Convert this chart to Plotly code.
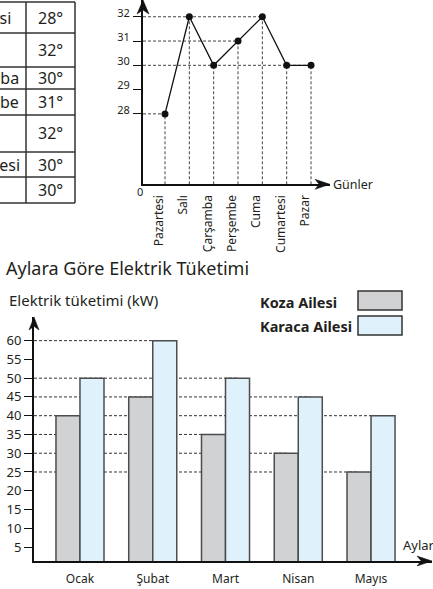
import plotly.graph_objects as go

W, H = 433, 589

# ---------------- data ----------------
days = ["Pazartesi", "Salı", "Çarşamba", "Perşembe", "Cuma", "Cumartesi", "Pazar"]
temps = [28, 32, 30, 31, 32, 30, 30]
temp_ticks = [28, 29, 30, 31, 32]
temp_tick_labels = ["28", "29", "30", "31", "32"]

table_temps = ["28°", "32°", "30°", "31°", "32°", "30°", "30°"]

months = ["Ocak", "Şubat", "Mart", "Nisan", "Mayıs"]
koza = [40, 45, 35, 30, 25]
karaca = [50, 60, 50, 45, 40]
kw_ticks = [5, 10, 15, 20, 25, 30, 35, 40, 45, 50, 55, 60]
kw_tick_labels = ["5", "10", "15", "20", "25", "30", "35", "40", "45", "50", "55", "60"]
kw_grid_levels = [60, 50, 45, 40, 35, 30, 25]

series_names = ["Koza Ailesi", "Karaca Ailesi"]
series_colors = ["#d1d2d4", "#dff1fa"]

# ---------------- helpers ----------------
FONT = "Noto Sans"
TXT = "#231f20"


def px(x):
    return x / W


def py(y):
    return 1 - y / H


def arrow_path(tx, ty, direction, L, Wd):
    if direction == "up":
        pts = [(tx, ty), (tx - Wd / 2, ty + L), (tx, ty + 0.72 * L), (tx + Wd / 2, ty + L)]
    else:
        pts = [(tx, ty), (tx - L, ty - Wd / 2), (tx - 0.72 * L, ty), (tx - L, ty + Wd / 2)]
    s = "M " + " L ".join(f"{px(a):.5f},{py(b):.5f}" for a, b in pts) + " Z"
    return s


shapes = []
annotations = []

# ---------------- table (top-left) ----------------
row_edges = [2, 33, 67, 89, 115, 152, 177, 203]
for y in row_edges:
    shapes.append(dict(type="line", xref="paper", yref="paper", x0=px(-2), x1=px(75),
                       y0=py(y), y1=py(y), line=dict(color="#333", width=1.5)))
for x in [26, 75]:
    shapes.append(dict(type="line", xref="paper", yref="paper", x0=px(x), x1=px(x),
                       y0=py(row_edges[0]), y1=py(row_edges[-1]), line=dict(color="#333", width=1.5)))
for i, (d, t) in enumerate(zip(days, table_temps)):
    yc = (row_edges[i] + row_edges[i + 1]) / 2
    annotations.append(dict(text=d, xref="paper", yref="paper", x=px(-59), y=py(yc),
                            xanchor="left", yanchor="middle", showarrow=False,
                            font=dict(family=FONT, size=16, color=TXT)))
    annotations.append(dict(text=t, xref="paper", yref="paper", x=px(50), y=py(yc),
                            xanchor="center", yanchor="middle", showarrow=False,
                            font=dict(family=FONT, size=16, color=TXT)))

# ---------------- line chart (top-right) ----------------
X1_MIN, X1_MAX = -0.904, 6.78
Y1_MIN, Y1_MAX = 25.1, 32.69

fig = go.Figure()
fig.add_trace(go.Scatter(x=days, y=temps, mode="lines+markers", xaxis="x", yaxis="y",
                         line=dict(color="#111", width=1.3),
                         marker=dict(color="#111", size=7), showlegend=False, cliponaxis=False))

for level in sorted(set(temps)):
    last = max(i for i, v in enumerate(temps) if v == level)
    shapes.append(dict(type="line", xref="x", yref="y", x0=X1_MIN, x1=last, y0=level, y1=level,
                       layer="below", line=dict(color="#444", width=1, dash="3px,2px")))
for i, v in enumerate(temps):
    shapes.append(dict(type="line", xref="x", yref="y", x0=i, x1=i, y0=Y1_MIN, y1=v,
                       layer="below", line=dict(color="#444", width=1, dash="3px,2px")))

shapes.append(dict(type="path", xref="paper", yref="paper", path=arrow_path(143, 0, "up", 14, 12),
                   fillcolor="#111", line=dict(color="#111", width=0.5)))
shapes.append(dict(type="path", xref="paper", yref="paper", path=arrow_path(330, 184.3, "right", 15, 10),
                   fillcolor="#111", line=dict(color="#111", width=0.5)))

annotations.append(dict(text="Günler", xref="paper", yref="paper", x=px(331), y=py(184.5),
                        xanchor="left", yanchor="middle", showarrow=False,
                        font=dict(family=FONT, size=12.5, color=TXT)))
annotations.append(dict(text="0", xref="paper", yref="paper", x=px(139.5), y=py(192),
                        xanchor="center", yanchor="middle", showarrow=False,
                        font=dict(family=FONT, size=11, color=TXT)))

# ---------------- bar chart (bottom) ----------------
X2_MIN, X2_MAX = -0.632, 4.838
Y2_MIN, Y2_MAX = 1.28, 66.3
BAR_OFF = 0.165

for name, vals, col in zip(series_names, [koza, karaca], series_colors):
    fig.add_trace(go.Bar(x=months, y=vals, name=name, xaxis="x2", yaxis="y2",
                         marker=dict(color=col, line=dict(color="#4d4d4d", width=1.5)),
                         showlegend=False))

for level in kw_grid_levels:
    ends = []
    for i in range(len(months)):
        if koza[i] == level:
            ends.append(i - BAR_OFF)
        if karaca[i] == level:
            ends.append(i + BAR_OFF)
    shapes.append(dict(type="line", xref="x2", yref="y2", x0=X2_MIN, x1=max(ends), y0=level, y1=level,
                       layer="below", line=dict(color="#333", width=1, dash="3px,2px")))

shapes.append(dict(type="path", xref="paper", yref="paper", path=arrow_path(34, 317, "up", 13, 10),
                   fillcolor="#111", line=dict(color="#111", width=0.5)))
shapes.append(dict(type="path", xref="paper", yref="paper", path=arrow_path(432, 561, "right", 15, 10),
                   fillcolor="#111", line=dict(color="#111", width=0.5)))

annotations.append(dict(text="Aylara Göre Elektrik Tüketimi", xref="paper", yref="paper",
                        x=px(4), y=py(268), xanchor="left", yanchor="middle", showarrow=False,
                        font=dict(family=FONT, size=18, color=TXT)))
annotations.append(dict(text="Elektrik tüketimi (kW)", xref="paper", yref="paper",
                        x=px(7), y=py(300), xanchor="left", yanchor="middle", showarrow=False,
                        font=dict(family=FONT, size=15, color=TXT)))
annotations.append(dict(text="Aylar", xref="paper", yref="paper",
                        x=px(401), y=py(545), xanchor="left", yanchor="middle", showarrow=False,
                        font=dict(family=FONT, size=13, color=TXT)))

# legend (text then box)
legend_rows = [(302, 291, 310), (326, 316, 335)]
for name, col, (ty, b0, b1) in zip(series_names, series_colors, legend_rows):
    annotations.append(dict(text=f"<b>{name}</b>", xref="paper", yref="paper",
                            x=px(258), y=py(ty), xanchor="left", yanchor="middle", showarrow=False,
                            font=dict(family=FONT, size=14.5, color=TXT)))
    shapes.append(dict(type="rect", xref="paper", yref="paper", x0=px(358), x1=px(402),
                       y0=py(b1), y1=py(b0), fillcolor=col, line=dict(color="#333", width=1.5)))

fig.update_layout(
    width=W, height=H,
    margin=dict(l=0, r=0, t=0, b=0),
    paper_bgcolor="white",
    plot_bgcolor="rgba(0,0,0,0)",
    font=dict(family=FONT, color=TXT),
    barmode="group", bargap=0.34, bargroupgap=0,
    shapes=shapes,
    annotations=annotations,
    xaxis=dict(domain=[px(143), px(330)], range=[X1_MIN, X1_MAX], type="category",
               categoryorder="array", categoryarray=days, anchor="y",
               showline=True, linewidth=2, linecolor="#111", showgrid=False, zeroline=False,
               ticks="", tickangle=-90, tickfont=dict(size=12, color=TXT),
               ticklabelshift=-6, ticklabelstandoff=4),
    yaxis=dict(domain=[py(184.3), 1], range=[Y1_MIN, Y1_MAX], anchor="x",
               tickvals=temp_ticks, ticktext=temp_tick_labels,
               showline=True, linewidth=2, linecolor="#111", showgrid=False, zeroline=False,
               ticks="outside", ticklen=8, tickwidth=1.2, tickcolor="#111",
               tickfont=dict(size=11, color=TXT), ticklabelshift=-4, ticklabelstandoff=1),
    xaxis2=dict(domain=[px(34), px(432)], range=[X2_MIN, X2_MAX], type="category",
                categoryorder="array", categoryarray=months, anchor="y2",
                showline=True, linewidth=2, linecolor="#111", showgrid=False, zeroline=False,
                ticks="", tickfont=dict(size=12, color=TXT), ticklabelstandoff=6),
    yaxis2=dict(domain=[py(561), py(317)], range=[Y2_MIN, Y2_MAX], anchor="x2",
                tickvals=kw_ticks, ticktext=kw_tick_labels,
                showline=True, linewidth=2, linecolor="#111", showgrid=False, zeroline=False,
                ticks="outside", ticklen=8, tickwidth=1.2, tickcolor="#111",
                tickfont=dict(size=13, color=TXT), ticklabelstandoff=0),
)

fig.write_html("out.html", config={"displayModeBar": False},
               post_script="document.body.style.margin='0';document.body.style.overflow='hidden';")
